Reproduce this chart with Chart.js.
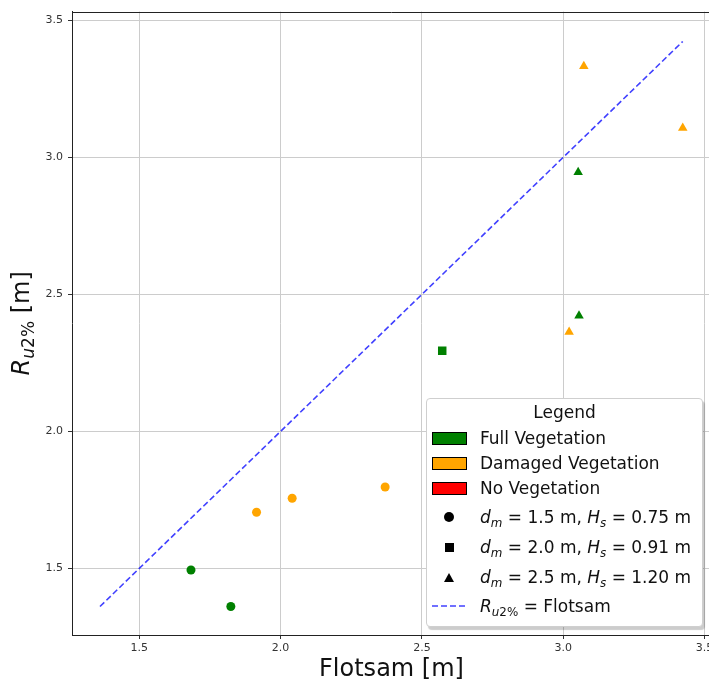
<!DOCTYPE html>
<html>
<head>
<meta charset="utf-8">
<title>Ru2% vs Flotsam</title>
<script src="https://cdn.jsdelivr.net/npm/chart.js@4.4.1/dist/chart.umd.min.js"></script>
<style>
    html, body { margin: 0; padding: 0; background: #fff; overflow: hidden; }
    #wrap { position: relative; width: 709px; height: 683px; overflow: hidden; }
    #chart { position: absolute; left: 0; top: 0; }

    /* legend box, drawn in html so the math text can use italics and subscripts */
    .legend {
        position: absolute; left: 426px; top: 398px;
        width: 275px; height: 227px;
        border: 1px solid #cfcfcf; border-radius: 4px;
        background: #fff;
        box-shadow: 2px 3px 1px rgba(0, 0, 0, 0.2);
        font-family: 'DejaVu Sans', sans-serif; font-size: 17px; color: #111;
    }
    .legend .title { position: absolute; left: 0; width: 100%; text-align: center; top: 3px; line-height: 20px; }
    .legend .row { position: absolute; left: 0; width: 100%; height: 20px; line-height: 20px; }
    .legend .row .txt { position: absolute; left: 53px; top: 0; white-space: nowrap; }
    .legend .patch { position: absolute; left: 5px; top: 4px; width: 33px; height: 11px; border: 1px solid #000; }
    .legend .dot { position: absolute; left: 17px; top: 5px; width: 10px; height: 10px; border-radius: 50%; background: #000; }
    .legend .sq { position: absolute; left: 18px; top: 6px; width: 9px; height: 9px; background: #000; }
    .legend .tri { position: absolute; left: 17px; top: 6px; width: 0; height: 0;
        border-left: 5px solid transparent; border-right: 5px solid transparent; border-bottom: 9px solid #000; }
    .legend svg { position: absolute; left: 5px; top: 8px; }
    .legend sub { font-size: 0.7em; vertical-align: -0.3em; line-height: 0; }
</style>
</head>
<body>
<div id="wrap">
    <canvas id="chart" width="740" height="683"></canvas>
    <div class="legend">
        <div class="title">Legend</div>
        <div class="row" style="top:29px"><span class="patch" style="background:#008000"></span><span class="txt">Full Vegetation</span></div>
        <div class="row" style="top:54px"><span class="patch" style="background:#ffa500"></span><span class="txt">Damaged Vegetation</span></div>
        <div class="row" style="top:79px"><span class="patch" style="background:#ff0000"></span><span class="txt">No Vegetation</span></div>
        <div class="row" style="top:108px"><span class="dot"></span><span class="txt"><i>d</i><sub><i>m</i></sub> = 1.5 m, <i>H</i><sub><i>s</i></sub> = 0.75 m</span></div>
        <div class="row" style="top:138px"><span class="sq"></span><span class="txt"><i>d</i><sub><i>m</i></sub> = 2.0 m, <i>H</i><sub><i>s</i></sub> = 0.91 m</span></div>
        <div class="row" style="top:168px"><span class="tri"></span><span class="txt"><i>d</i><sub><i>m</i></sub> = 2.5 m, <i>H</i><sub><i>s</i></sub> = 1.20 m</span></div>
        <div class="row" style="top:197px">
            <svg width="36" height="4"><line x1="0" y1="2" x2="36" y2="2" stroke="rgba(0,0,255,0.75)" stroke-width="1.6" stroke-dasharray="6,3"/></svg>
            <span class="txt"><i>R</i><sub><i>u</i>2%</sub> = Flotsam</span>
        </div>
    </div>
</div>

<script>
// ---- data ----
const xTicks = [1.5, 2.0, 2.5, 3.0, 3.5];
const yTicks = [1.5, 2.0, 2.5, 3.0, 3.5];
const xRange = [1.262, 3.523];
const yRange = [1.257, 3.532];

// d_m = 1.5 m (circles)
const fullCircleX = [1.683, 1.824];
const fullCircleY = [1.494, 1.361];
const damagedCircleX = [1.915, 2.041, 2.370];
const damagedCircleY = [1.705, 1.756, 1.797];

// d_m = 2.0 m (squares)
const fullSquareX = [2.572];
const fullSquareY = [2.294];

// d_m = 2.5 m (triangles)
const fullTriangleX = [3.053, 3.056];
const fullTriangleY = [2.946, 2.422];
const damagedTriangleX = [3.073, 3.423, 3.021];
const damagedTriangleY = [3.333, 3.107, 2.363];

// Ru2% = Flotsam line, from min to max of the data
const fitLine = [1.361, 3.423];

const GREEN = '#008000';
const ORANGE = '#ffa500';
const FONT = "'DejaVu Sans', sans-serif";

function toPoints(xs, ys) {
    return xs.map((x, i) => ({ x: x, y: ys[i] }));
}

function markers(label, xs, ys, color, style, radius) {
    return {
        label: label,
        data: toPoints(xs, ys),
        pointStyle: style,
        pointRadius: radius,
        backgroundColor: color,
        borderColor: color,
        borderWidth: 0,
        showLine: false,
        order: 1
    };
}

// top/right spines plus the two axis titles (with subscript)
const framePlugin = {
    id: 'frame',
    afterDraw(chart) {
        const { ctx, chartArea: a } = chart;
        ctx.save();
        ctx.strokeStyle = '#222';
        ctx.lineWidth = 1;
        ctx.beginPath();
        ctx.moveTo(a.left, Math.round(a.top) + 0.5);
        ctx.lineTo(a.right, Math.round(a.top) + 0.5);
        ctx.moveTo(Math.round(a.right) + 0.5, a.top);
        ctx.lineTo(Math.round(a.right) + 0.5, a.bottom);
        ctx.stroke();

        // x title
        ctx.fillStyle = '#111';
        ctx.font = '24px ' + FONT;
        ctx.textAlign = 'center';
        ctx.textBaseline = 'alphabetic';
        ctx.fillText('Flotsam [m]', (a.left + a.right) / 2, 676);

        // y title: R_{u2%} [m], rotated
        const main = '24px ' + FONT;
        const ital = 'italic 24px ' + FONT;
        const subI = 'italic 17px ' + FONT;
        const sub = '17px ' + FONT;
        const parts = [
            { t: 'R', f: ital, dy: 0 },
            { t: 'u', f: subI, dy: 5 },
            { t: '2%', f: sub, dy: 5 },
            { t: ' [m]', f: main, dy: 0 }
        ];
        let total = 0;
        parts.forEach(p => { ctx.font = p.f; p.w = ctx.measureText(p.t).width; total += p.w; });
        ctx.translate(29, (a.top + a.bottom) / 2);
        ctx.rotate(-Math.PI / 2);
        ctx.textAlign = 'left';
        let x = -total / 2;
        parts.forEach(p => {
            ctx.font = p.f;
            ctx.fillText(p.t, x, p.dy);
            x += p.w;
        });
        ctx.restore();
    }
};

const ctx = document.getElementById('chart');

new Chart(ctx, {
    type: 'scatter',
    data: {
        datasets: [
            {
                label: 'Ru2% = Flotsam',
                data: toPoints(fitLine, fitLine),
                showLine: true,
                borderColor: 'rgba(0, 0, 255, 0.75)',
                borderWidth: 1.6,
                borderDash: [6, 3],
                pointRadius: 0,
                fill: false,
                order: 0
            },
            markers('Full, d=1.5', fullCircleX, fullCircleY, GREEN, 'circle', 4.5),
            markers('Damaged, d=1.5', damagedCircleX, damagedCircleY, ORANGE, 'circle', 4.5),
            markers('Full, d=2.0', fullSquareX, fullSquareY, GREEN, 'rect', 6),
            markers('Full, d=2.5', fullTriangleX, fullTriangleY, GREEN, 'triangle', 5.5),
            markers('Damaged, d=2.5', damagedTriangleX, damagedTriangleY, ORANGE, 'triangle', 5.5)
        ]
    },
    options: {
        animation: false,
        responsive: false,
        devicePixelRatio: 1,
        events: [],
        layout: { padding: { left: 0, top: 8, right: 29, bottom: 0 } },
        plugins: {
            legend: { display: false },
            tooltip: { enabled: false }
        },
        scales: {
            x: {
                type: 'linear',
                min: xRange[0],
                max: xRange[1],
                afterBuildTicks: scale => { scale.ticks = xTicks.map(v => ({ value: v })); },
                afterFit: scale => { scale.height = 48; },
                ticks: {
                    callback: v => v.toFixed(1),
                    font: { family: FONT, size: 11 },
                    color: '#333',
                    padding: 3,
                    maxRotation: 0
                },
                grid: { color: '#cccccc', lineWidth: 1, tickLength: 4, tickColor: '#333' },
                border: { color: '#222', width: 1 },
                title: { display: false }
            },
            y: {
                type: 'linear',
                min: yRange[0],
                max: yRange[1],
                afterBuildTicks: scale => { scale.ticks = yTicks.map(v => ({ value: v })); },
                afterFit: scale => { scale.width = 72; },
                ticks: {
                    callback: v => v.toFixed(1),
                    font: { family: FONT, size: 11 },
                    color: '#333',
                    padding: 5
                },
                grid: { color: '#cccccc', lineWidth: 1, tickLength: 4, tickColor: '#333' },
                border: { color: '#222', width: 1 },
                title: { display: false }
            }
        }
    },
    plugins: [framePlugin]
});
</script>
</body>
</html>
